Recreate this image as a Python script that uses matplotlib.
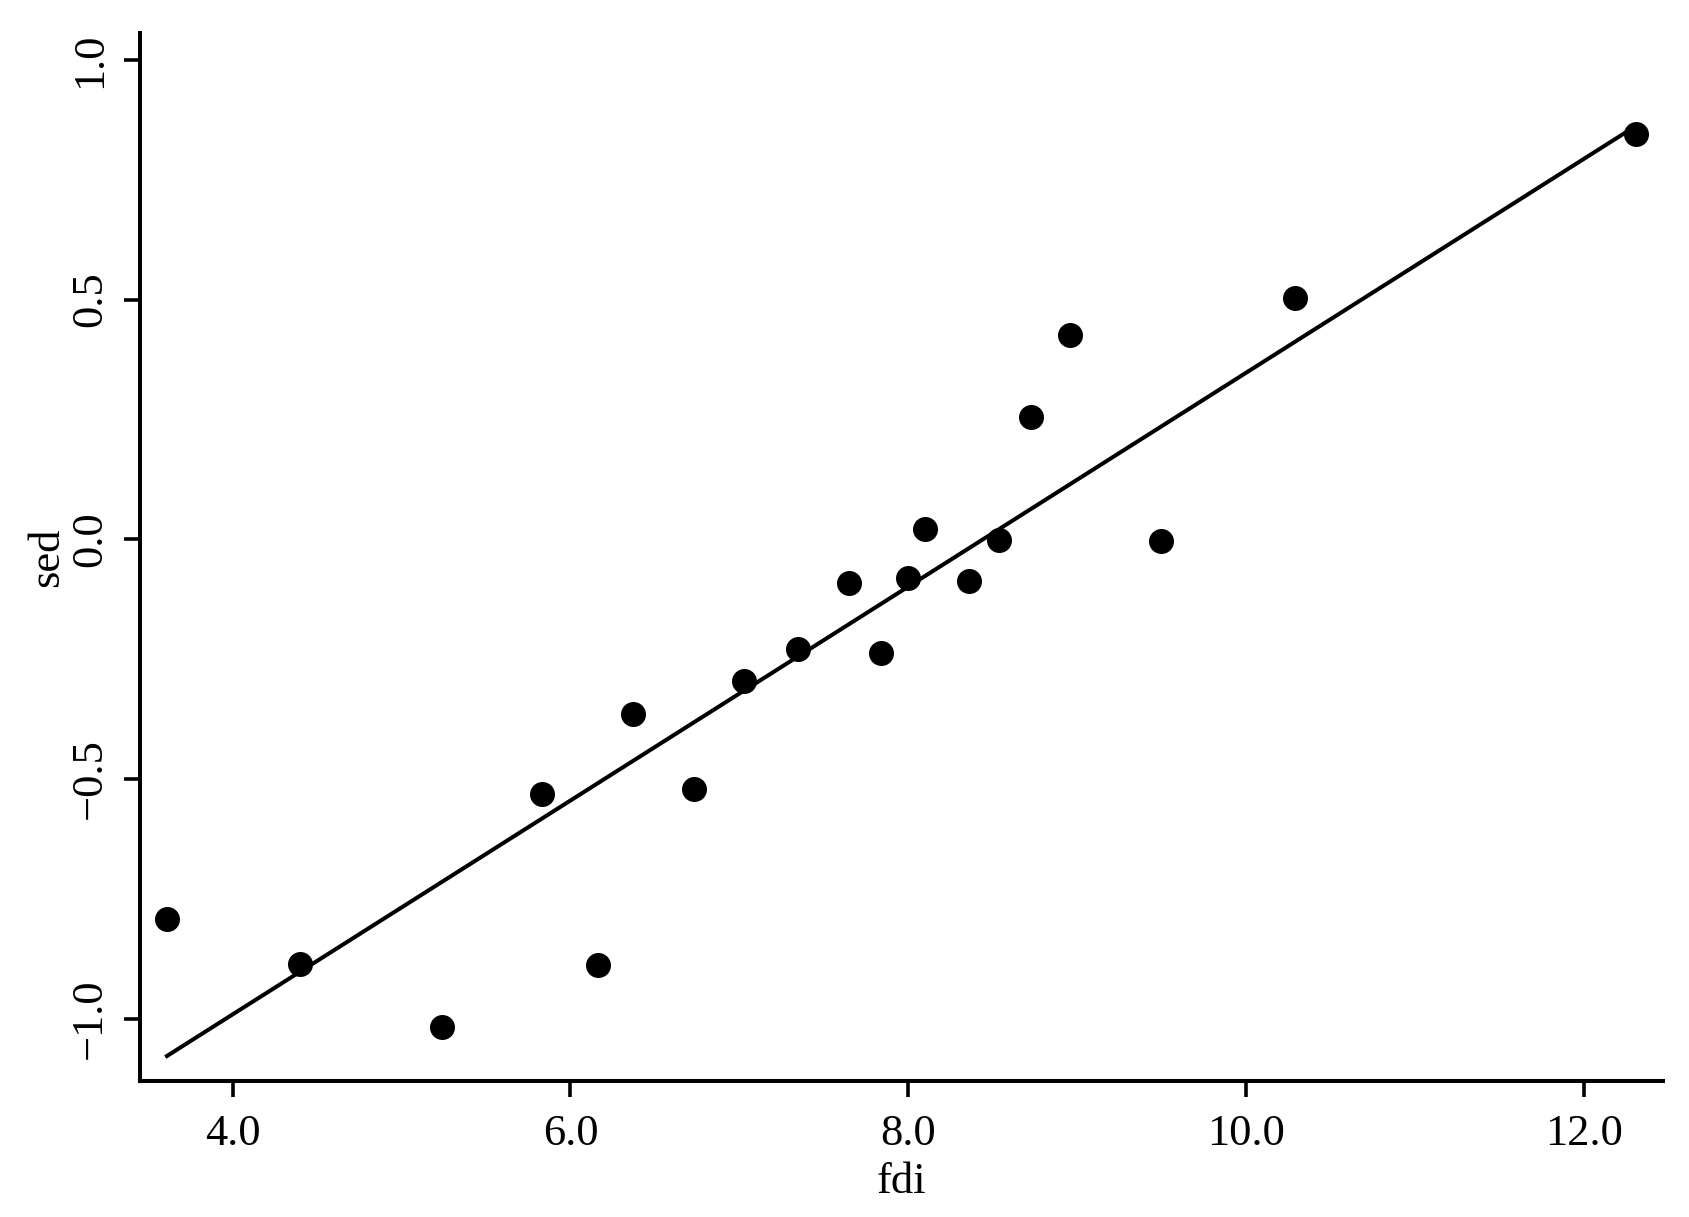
import numpy as np
import matplotlib
matplotlib.use('Agg')
import matplotlib.pyplot as plt

# Values
fdi = [3.61, 4.40, 5.24, 5.83, 6.16, 6.37, 6.73, 7.03, 7.35, 7.65,
       7.84, 8.00, 8.10, 8.36, 8.54, 8.73, 8.96, 9.50, 10.29, 12.31]
sed = [-0.792, -0.886, -1.017, -0.531, -0.889, -0.364, -0.522, -0.295, -0.229, -0.092,
       -0.238, -0.081, 0.022, -0.088, -0.002, 0.254, 0.425, -0.004, 0.504, 0.846]

# fitted line
slope = 0.223
intercept = -1.883

xticks = [4.0, 6.0, 8.0, 10.0, 12.0]
yticks = [-1.0, -0.5, 0.0, 0.5, 1.0]

plt.rcParams['font.family'] = ['Liberation Serif', 'DejaVu Serif']

fig = plt.figure(figsize=(16.9, 12.17), dpi=100)
ax = fig.add_axes([0.0828, 0.1118, 0.9012, 0.8611])

ax.scatter(fdi, sed, s=324, color='black', zorder=3, linewidths=0)

line_x = np.array([min(fdi), max(fdi)])
ax.plot(line_x, intercept + slope * line_x, color='black', lw=2.9)

ax.set_xlim(3.45, 12.47)
ax.set_ylim(-1.13, 1.056)
ax.set_xticks(xticks)
ax.set_yticks(yticks)
ax.set_xticklabels([f'{t:.1f}' for t in xticks])
ax.set_yticklabels([f'{t:.1f}'.replace('-', '\u2212') for t in yticks],
                   rotation=90, va='center')

for side in ['top', 'right']:
    ax.spines[side].set_visible(False)
for side in ['left', 'bottom']:
    ax.spines[side].set_linewidth(2.9)

ax.tick_params(axis='both', labelsize=32, length=11.5, width=2.6)
ax.tick_params(axis='x', pad=12)
ax.tick_params(axis='y', pad=10)

ax.set_xlabel('fdi', fontsize=32, labelpad=6)
ax.set_ylabel('sed', fontsize=32, labelpad=2)

fig.savefig('out.png', dpi=100)
